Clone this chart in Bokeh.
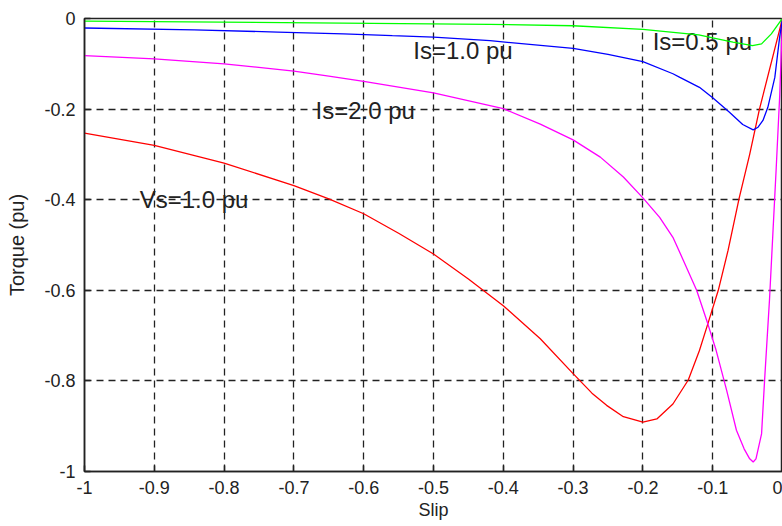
from bokeh.plotting import figure
from bokeh.models import Range1d, FixedTicker, CustomJSTickFormatter
from bokeh.core.properties import value
from bokeh.embed import file_html
from bokeh.resources import INLINE

# ---- data ----
x_ticks = [-1, -0.9, -0.8, -0.7, -0.6, -0.5, -0.4, -0.3, -0.2, -0.1, 0]
y_ticks = [-1, -0.8, -0.6, -0.4, -0.2, 0]

vs10_slip = [-1, -0.9, -0.8, -0.7, -0.65, -0.6, -0.55, -0.5, -0.45, -0.4, -0.347, -0.3, -0.273,
             -0.252, -0.228, -0.2, -0.18, -0.157, -0.135, -0.119, -0.107, -0.092, -0.078,
             -0.062, -0.047, -0.033, 0]
vs10_torque = [-0.253, -0.280, -0.319, -0.369, -0.398, -0.431, -0.474, -0.520, -0.575, -0.634,
               -0.707, -0.784, -0.827, -0.854, -0.879, -0.891, -0.884, -0.851, -0.798, -0.733,
               -0.674, -0.600, -0.512, -0.396, -0.300, -0.200, 0]

is20_slip = [-1, -0.9, -0.8, -0.7, -0.65, -0.6, -0.5, -0.4, -0.347, -0.3, -0.261, -0.228, -0.2,
             -0.176, -0.157, -0.142, -0.123, -0.107, -0.095, -0.080, -0.066, -0.055, -0.047,
             -0.042, -0.038, -0.030, -0.0257, -0.0186, -0.0138, -0.009, -0.004, 0]
is20_torque = [-0.082, -0.089, -0.100, -0.116, -0.127, -0.139, -0.164, -0.199, -0.233, -0.268,
               -0.306, -0.350, -0.396, -0.439, -0.483, -0.534, -0.600, -0.674, -0.733, -0.821,
               -0.909, -0.950, -0.972, -0.979, -0.972, -0.917, -0.800, -0.620, -0.475, -0.330,
               -0.170, 0]

is10_slip = [-1, -0.843, -0.723, -0.629, -0.559, -0.5, -0.419, -0.3, -0.25, -0.2, -0.157, -0.147,
             -0.119, -0.1, -0.076, -0.057, -0.042, -0.035, -0.028, -0.021, -0.011, -0.004, 0]
is10_torque = [-0.021, -0.025, -0.030, -0.034, -0.038, -0.041, -0.049, -0.066, -0.079, -0.095,
               -0.122, -0.130, -0.152, -0.175, -0.207, -0.234, -0.246, -0.240, -0.225, -0.196,
               -0.130, -0.040, 0]

is05_slip = [-1, -0.63, -0.42, -0.3, -0.2, -0.12, -0.1, -0.071, -0.043, -0.030, -0.016, -0.004, 0]
is05_torque = [-0.006, -0.010, -0.013, -0.016, -0.024, -0.036, -0.043, -0.052, -0.060, -0.056,
               -0.034, -0.008, 0]

curve_labels = ["Vs=1.0 pu", "Is=2.0 pu", "Is=1.0 pu", "Is=0.5 pu"]
label_slip = [-0.921, -0.669, -0.529, -0.186]
label_torque = [-0.400, -0.203, -0.071, -0.051]

# ---- figure ----
p = figure(width=782, height=526, x_range=Range1d(-1, 0), y_range=Range1d(-1, 0),
           output_backend="svg", toolbar_location=None,
           min_border_left=84, min_border_right=0, min_border_top=18, min_border_bottom=55)
p.background_fill_color = "white"
p.border_fill_color = "white"
p.outline_line_color = "#222222"
p.outline_line_width = 1.5

fmt = CustomJSTickFormatter(code="return String(Math.round(tick*10)/10)")
FONT = "Liberation Sans"

for ax, ticks in ((p.xaxis[0], x_ticks), (p.yaxis[0], y_ticks)):
    ax.ticker = FixedTicker(ticks=ticks)
    ax.formatter = fmt
    ax.major_tick_in = 6
    ax.major_tick_out = 0
    ax.minor_tick_in = 0
    ax.minor_tick_out = 0
    ax.axis_line_color = "#222222"
    ax.axis_line_width = 1.5
    ax.major_tick_line_color = "#222222"
    ax.major_tick_line_width = 1.5
    ax.major_label_text_font = FONT
    ax.major_label_text_font_size = "18px"
    ax.major_label_text_color = "#222222"
    ax.axis_label_text_font = FONT
    ax.axis_label_text_font_style = "normal"
    ax.axis_label_text_color = "#222222"

p.xaxis.major_label_standoff = 9
p.yaxis.major_label_standoff = 9
p.yaxis.axis_label = "Torque (pu)"
p.yaxis.axis_label_text_font_size = "20px"
p.yaxis.axis_label_standoff = 13
p.xaxis.axis_label = "Slip"
p.xaxis.axis_label_text_font_size = "18px"
p.xaxis.axis_label_standoff = 3

p.xgrid.ticker = FixedTicker(ticks=x_ticks)
p.ygrid.ticker = FixedTicker(ticks=y_ticks)
for g in (p.xgrid[0], p.ygrid[0]):
    g.grid_line_color = "#222222"
    g.grid_line_dash = "7 5"
    g.grid_line_width = 1.3

# labels under the grid
p.text(x=label_slip, y=label_torque, text=curve_labels, text_font=value(FONT),
       text_font_size="24px", text_align="left", text_baseline="middle",
       text_color="#222222", level="image")

p.line(vs10_slip, vs10_torque, line_color="#ff0000", line_width=1.3)
p.line(is20_slip, is20_torque, line_color="#ff00ff", line_width=1.3)
p.line(is10_slip, is10_torque, line_color="#0000ff", line_width=1.3)
p.line(is05_slip, is05_torque, line_color="#00ff00", line_width=1.3)

open("out.html", "w").write(file_html(p, INLINE))
